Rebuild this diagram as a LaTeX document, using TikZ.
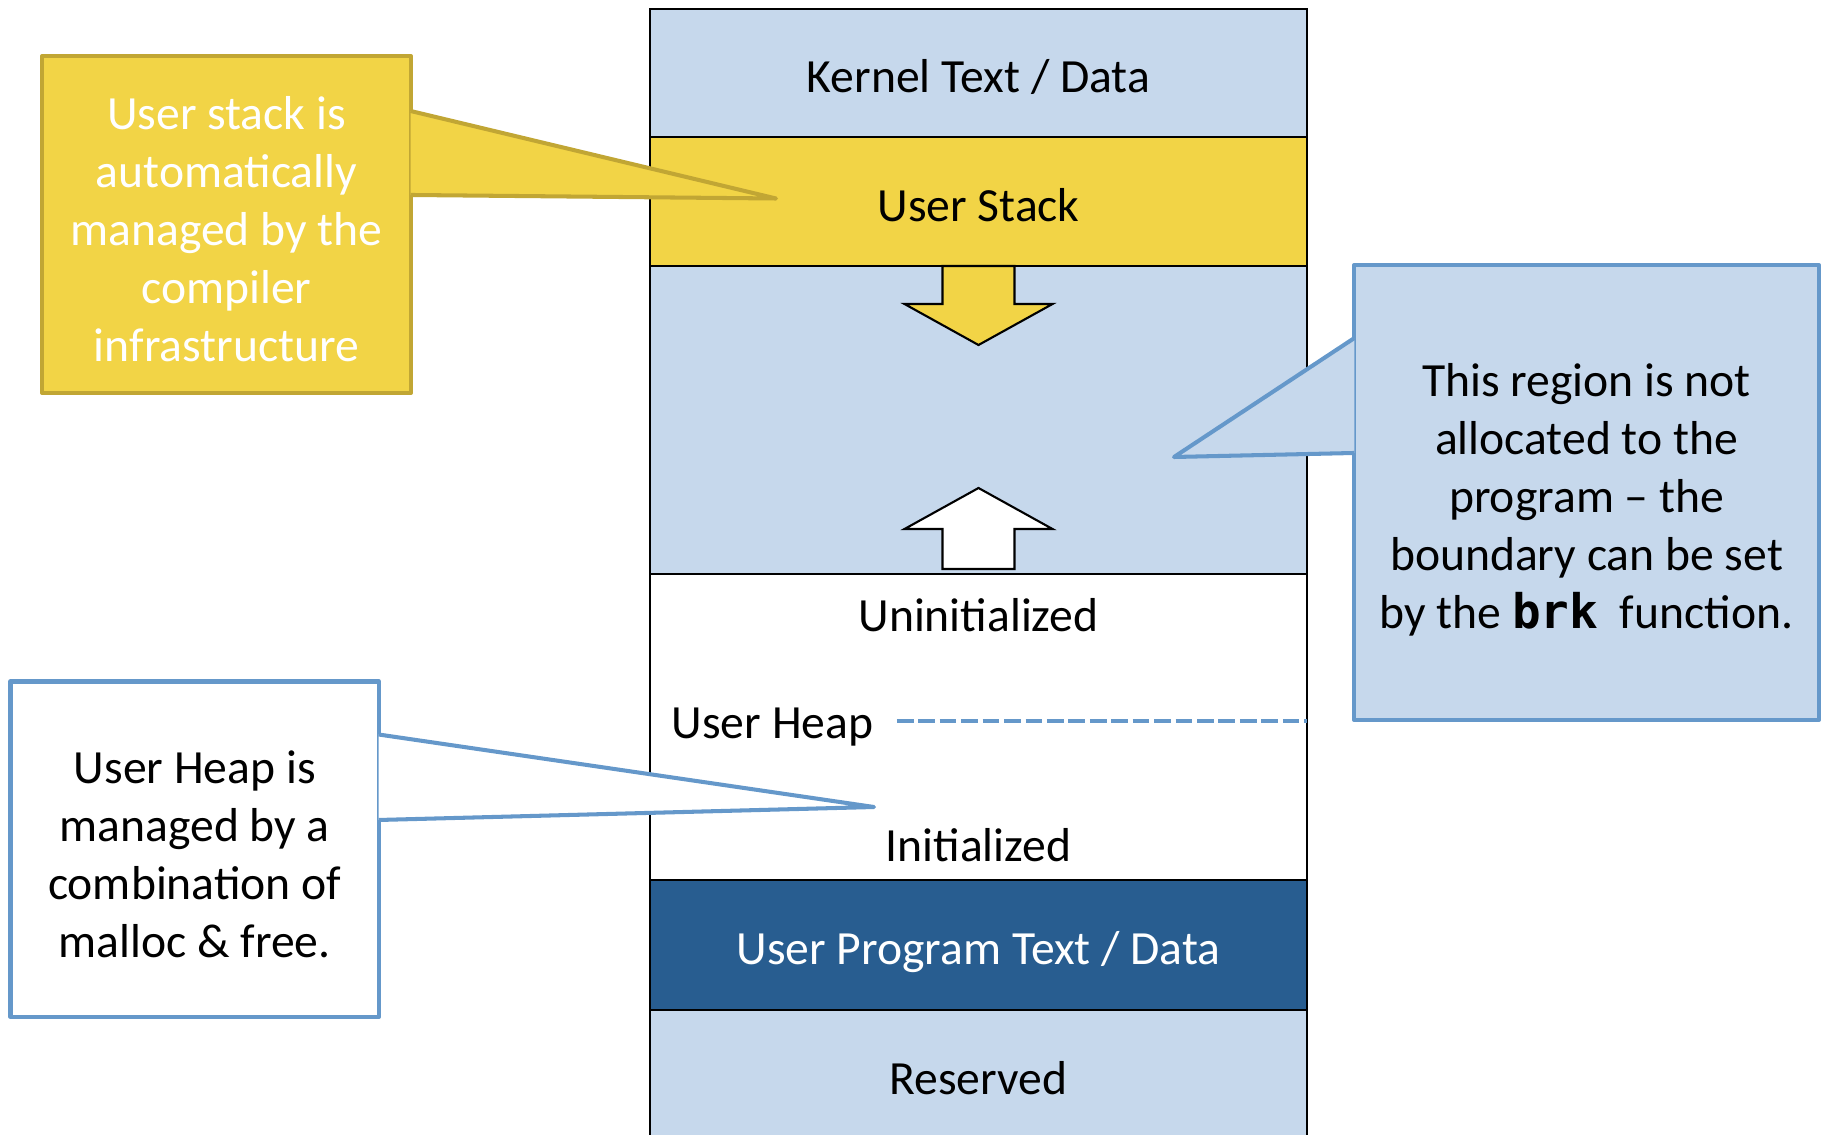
\documentclass[tikz,border=0pt]{standalone}
\usepackage{fontspec}
\setmainfont{Carlito}
\newfontfamily\codefont{DejaVu Sans Mono}
\usetikzlibrary{positioning}

\definecolor{memblue}{HTML}{C6D8EC}
\definecolor{stackyellow}{HTML}{F2D446}
\definecolor{stackedge}{HTML}{C1A634}
\definecolor{progblue}{HTML}{285D90}
\definecolor{noteblue}{HTML}{6598CA}

\begin{document}
\begin{tikzpicture}[seg/.style={rectangle,draw=black,line width=0.6pt,minimum width=6.57cm,inner sep=0pt,outer sep=0pt,text height=11.3pt,text depth=0pt,font=\fontsize{13.55}{16.5}\selectfont},
    lbl/.style={inner sep=0pt,align=center,font=\fontsize{13.55}{16.5}\selectfont},
    note/.style={rectangle,line width=1.15pt,line join=round},
    bigarrow/.style={draw=black,line width=0.6pt},
    boundary/.style={noteblue,line width=1.15pt,dash pattern=on 4.75pt off 1.35pt}]
    \useasboundingbox (0,0) rectangle (18.28,-11.35);

    % memory layout, top to bottom
    \node[seg,fill=memblue,minimum height=1.28cm,anchor=north] (kernel) at (9.785,-0.09) {Kernel Text / Data};
    \node[seg,fill=stackyellow,minimum height=1.29cm,below=0pt of kernel] (stack) {User Stack};
    \node[seg,fill=memblue,minimum height=3.08cm,below=0pt of stack] (free) {};
    \node[seg,fill=white,minimum height=3.06cm,below=0pt of free] (heap) {};
    \node[seg,fill=progblue,text=white,minimum height=1.30cm,below=0pt of heap] (prog) {User Program Text / Data};
    \node[seg,fill=memblue,minimum height=1.30cm,below=0pt of prog] (reserved) {Reserved};

    % heap labels and break line
    \node[lbl] (uninit) at ([yshift=-0.415cm]heap.north) {Uninitialized};
    \node[lbl] (init) at ([yshift=0.35cm]heap.south) {Initialized};
    \node[lbl,anchor=west] (heaplbl) at ([xshift=0.21cm]heap.west) {User Heap};
    \coordinate (brk) at ([xshift=0.23cm,yshift=0.06cm]heaplbl.east);
    \draw[boundary] (brk) -- (brk -| heap.east);

    % stack grows down, heap grows up
    \draw[bigarrow,fill=stackyellow,shift={(stack.south)}] (-0.36,0) -- (-0.36,-0.38) -- (-0.74,-0.38) -- (0,-0.79) -- (0.74,-0.38) -- (0.36,-0.38) -- (0.36,0) -- cycle;
    \draw[bigarrow,fill=white,shift={(free.south)}] (-0.36,0.05) -- (-0.36,0.45) -- (-0.74,0.45) -- (0,0.86) -- (0.74,0.45) -- (0.36,0.45) -- (0.36,0.05) -- cycle;

    % callouts
    \node[note,draw=stackedge,fill=stackyellow,minimum width=3.69cm,minimum height=3.37cm] (stacknote) at (2.265,-2.245) {};
    \coordinate (stacktip) at ([xshift=1.26cm,yshift=0.03cm]stack.west);
    \filldraw[note,draw=stackedge,fill=stackyellow] ([xshift=-0.7pt,yshift=-0.57cm]stacknote.north east) -- (stacktip) -- ([xshift=-0.7pt,yshift=-1.41cm]stacknote.north east);
    \node[lbl,text=white] (stacktext) at ([yshift=-0.045cm]stacknote.center)
        {User stack is\\automatically\\managed by the\\compiler\\infrastructure};

    \node[note,draw=noteblue,fill=white,minimum width=3.685cm,minimum height=3.355cm] (heapnote) at (1.9475,-8.4925) {};
    \coordinate (heaptip) at ([xshift=2.24cm,yshift=-0.80cm]heap.west);
    \filldraw[note,draw=noteblue,fill=white] ([xshift=-0.7pt,yshift=-0.55cm]heapnote.north east) -- (heaptip) -- ([xshift=-0.7pt,yshift=-1.405cm]heapnote.north east);
    \node[lbl] (heaptext) at ([yshift=-0.047cm]heapnote.center)
        {User Heap is\\managed by a\\combination of\\malloc \& free.};

    \node[note,draw=noteblue,fill=memblue,minimum width=4.65cm,minimum height=4.55cm] (freenote) at (15.865,-4.925) {};
    \coordinate (freetip) at ([xshift=-1.33cm,yshift=-0.37cm]free.east);
    \filldraw[note,draw=noteblue,fill=memblue] ([xshift=0.7pt,yshift=-0.75cm]freenote.north west) -- (freetip) -- ([xshift=0.7pt,yshift=-1.90cm]freenote.north west);
    \node[lbl] (freetext) at ([yshift=-0.07cm]freenote.center)
        {This region is not\\allocated to the\\program -- the\\boundary can be set\\by the {\codefont\bfseries brk}\ \ function.};
\end{tikzpicture}
\end{document}
